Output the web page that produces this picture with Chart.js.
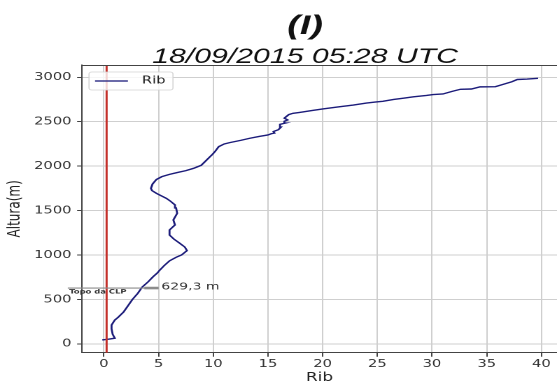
<!DOCTYPE html>
<html>
<head>
<meta charset="utf-8">
<script src="https://cdn.jsdelivr.net/npm/chart.js@4.4.1/dist/chart.umd.min.js"></script>
<style>
    html, body { margin: 0; padding: 0; background: #fff; overflow: hidden; }
    /* the figure is drawn narrow and stretched sideways */
    #wrap { width: 398px; height: 387px; transform: scaleX(1.3995); transform-origin: 0 0; }
</style>
</head>
<body>
<div id="wrap"><canvas id="ribChart" width="398" height="387"></canvas></div>
<script>
const titleText = '(I)';
const subtitleText = '18/09/2015 05:28 UTC';

// perfil do Richardson bulk (Rib) x altura (m)
const ribValues = [-0.15, 0.5, 1.0, 0.8, 0.7, 0.7, 1.0, 1.3, 1.8, 2.2, 2.6, 3.1, 3.5, 4.05, 4.5, 4.9,
    5.1, 5.5, 6.0, 6.6, 7.1, 7.6, 7.4, 6.95, 6.4, 6.0, 6.0, 6.5, 6.35, 6.7, 6.6, 6.5, 6.1, 5.7,
    5.2, 4.8, 4.4, 4.3, 4.45, 4.8, 5.3, 6.0, 6.65, 7.5, 8.2, 8.9, 9.4, 9.9, 10.15, 10.5, 11.0,
    11.5, 12.5, 13.35, 14.2, 15.0, 15.3, 15.6, 15.5, 15.95, 16.2, 16.1, 16.6, 16.5, 16.8, 16.5,
    16.7, 16.9, 17.3, 17.9, 19.0, 20.1, 21.5, 22.8, 24.0, 24.9, 25.5, 26.5, 27.4, 28.3, 29.5,
    30.1, 31.0, 31.8, 32.6, 33.6, 34.4, 35.8, 36.5, 37.3, 37.8, 38.7, 39.7];
const alturaValues = [45, 55, 65, 110, 170, 213, 270, 300, 360, 430, 500, 570, 640, 700, 757, 800,
    830, 880, 935, 975, 1001, 1050, 1090, 1132, 1180, 1226, 1282, 1339, 1395, 1470, 1530, 1564,
    1605, 1639, 1670, 1695, 1725, 1750, 1800, 1850, 1882, 1908, 1927, 1950, 1976, 2010, 2070,
    2130, 2163, 2220, 2250, 2265, 2290, 2314, 2335, 2351, 2365, 2372, 2390, 2410, 2440, 2470,
    2485, 2505, 2520, 2540, 2560, 2580, 2595, 2605, 2625, 2645, 2668, 2688, 2710, 2722, 2730,
    2750, 2765, 2780, 2795, 2806, 2812, 2840, 2865, 2868, 2892, 2894, 2920, 2950, 2975, 2980, 2988];

const ribCritico = 0.25;
const topoCLP = 629.3;
const topoMarkX = [-3.3, 5.0];

const xTicks = [0, 5, 10, 15, 20, 25, 30, 35, 40];
const yTicks = [0, 500, 1000, 1500, 2000, 2500, 3000];
const xLimits = [-2, 41.43];
const yLimits = [-98, 3138];

const tickFont = { family: 'DejaVu Sans', size: 10.5 };

// títulos, borda superior, marcação do topo da CLP e legenda
const decorPlugin = {
    id: 'decor',
    afterDraw(chart) {
        const ctx = chart.ctx;
        const a = chart.chartArea;
        const x = chart.scales.x, y = chart.scales.y;
        ctx.save();

        ctx.strokeStyle = '#444';
        ctx.lineWidth = 1;
        ctx.beginPath();
        ctx.moveTo(a.left, a.top + 0.5);
        ctx.lineTo(a.right, a.top + 0.5);
        ctx.stroke();

        ctx.fillStyle = '#111';
        ctx.textAlign = 'center';
        ctx.textBaseline = 'alphabetic';
        ctx.font = 'italic bold 27px "Liberation Sans"';
        ctx.fillText(titleText, 218, 34);
        ctx.font = 'italic 21.6px "Liberation Sans"';
        ctx.fillText(subtitleText, 218, 63);

        const py = y.getPixelForValue(topoCLP);
        const x0 = x.getPixelForValue(topoMarkX[0]);
        const x1 = x.getPixelForValue(topoMarkX[1]);
        ctx.strokeStyle = '#8c8c8c';
        ctx.lineWidth = 1.2;
        ctx.beginPath();
        ctx.moveTo(x0, py);
        ctx.lineTo(x1, py);
        ctx.stroke();
        ctx.lineWidth = 2.6;
        ctx.beginPath();
        ctx.moveTo(x.getPixelForValue(3.7), py);
        ctx.lineTo(x1, py);
        ctx.stroke();

        ctx.fillStyle = '#333';
        ctx.textAlign = 'left';
        ctx.textBaseline = 'middle';
        ctx.font = 'bold 6px "DejaVu Sans"';
        ctx.fillText('Topo da CLP', x0 + 1, py + 4);
        ctx.font = '10px "DejaVu Sans"';
        ctx.fillText(topoCLP.toFixed(1).replace('.', ',') + ' m', x1 + 2, py - 1);

        // legenda
        const lx = a.left + 5, ly = a.top + 7, lw = 60, lh = 18;
        ctx.beginPath();
        ctx.roundRect(lx, ly, lw, lh, 2);
        ctx.fillStyle = 'rgba(255,255,255,0.8)';
        ctx.fill();
        ctx.strokeStyle = '#d4d4d4';
        ctx.lineWidth = 0.8;
        ctx.stroke();
        ctx.strokeStyle = '#3a3a8c';
        ctx.lineWidth = 1.4;
        ctx.beginPath();
        ctx.moveTo(lx + 4.3, ly + lh / 2);
        ctx.lineTo(lx + 27.8, ly + lh / 2);
        ctx.stroke();
        ctx.fillStyle = '#222';
        ctx.font = '10.5px "DejaVu Sans"';
        ctx.fillText('Rib', lx + 37.8, ly + lh / 2);

        ctx.restore();
    }
};

new Chart(document.getElementById('ribChart'), {
    type: 'scatter',
    data: {
        datasets: [
            {
                label: 'Ri crítico',
                data: yLimits.map(v => ({ x: ribCritico, y: v })),
                showLine: true,
                borderColor: '#c3302a',
                borderWidth: 1.5,
                pointRadius: 0
            },
            {
                label: 'Rib',
                data: ribValues.map((v, i) => ({ x: v, y: alturaValues[i] })),
                showLine: true,
                borderColor: '#1c1c7a',
                borderWidth: 1.4,
                pointRadius: 0,
                tension: 0
            }
        ]
    },
    options: {
        responsive: false,
        devicePixelRatio: 2,
        animation: false,
        layout: { padding: { top: 65, left: 0, right: 0, bottom: 0 } },
        plugins: {
            legend: { display: false },
            tooltip: { enabled: false }
        },
        scales: {
            x: {
                type: 'linear',
                min: xLimits[0],
                max: xLimits[1],
                afterBuildTicks: s => { s.ticks = xTicks.map(v => ({ value: v })); },
                afterFit: s => { s.height = 34.3; },
                ticks: { font: tickFont, color: '#333', padding: 1.5, callback: v => String(v) },
                grid: { color: '#cfcfcf', lineWidth: 1, tickColor: '#444', tickLength: 4 },
                border: { color: '#444', width: 1 },
                title: {
                    display: true, text: 'Rib', color: '#222',
                    font: { family: 'DejaVu Sans', size: 12 },
                    padding: { top: 0, bottom: 1.8 }
                }
            },
            y: {
                type: 'linear',
                min: yLimits[0],
                max: yLimits[1],
                afterBuildTicks: s => { s.ticks = yTicks.map(v => ({ value: v })); },
                afterFit: s => { s.width = 58.6; },
                ticks: { font: tickFont, color: '#333', padding: 4, callback: v => String(v) },
                grid: { color: '#cfcfcf', lineWidth: 1, tickColor: '#444', tickLength: 3.5 },
                border: { color: '#444', width: 1 },
                title: {
                    display: true, text: 'Altura(m)', color: '#222',
                    font: { family: 'DejaVu Sans', size: 12 },
                    padding: { top: 3.5, bottom: 0 }
                }
            }
        }
    },
    plugins: [decorPlugin]
});
</script>
</body>
</html>
